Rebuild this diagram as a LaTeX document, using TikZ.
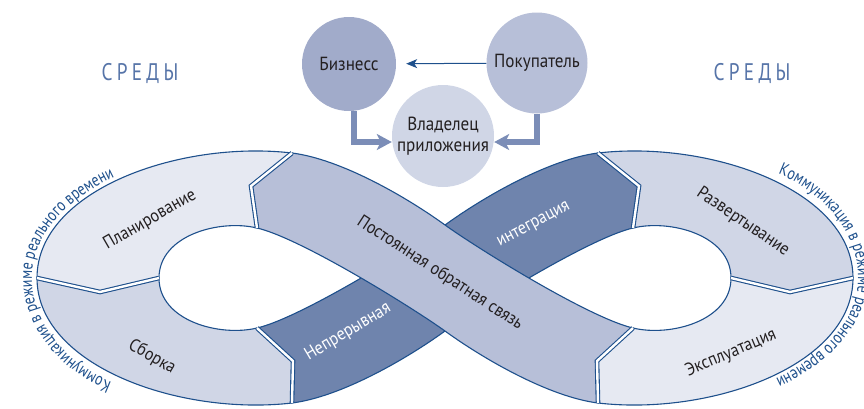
\documentclass[tikz,border=0pt]{standalone}
\usepackage{fontspec}
\setmainfont{PT Sans}[FakeStretch=0.9]
\newfontfamily\envfont{PT Sans}[FakeStretch=0.8,LetterSpace=18]
\newfontfamily\narrowfont{PT Sans}[FakeStretch=0.8]
\usetikzlibrary{arrows.meta,decorations.text}
\definecolor{edge}{RGB}{30,80,140}
\definecolor{ink}{RGB}{35,31,32}
\definecolor{ringA}{RGB}{230,233,242}
\definecolor{ringB}{RGB}{208,214,230}
\definecolor{bandA}{RGB}{183,191,216}
\definecolor{bandB}{RGB}{111,132,173}
\definecolor{bizfill}{RGB}{161,171,202}
\definecolor{fatgray}{RGB}{123,141,183}
\definecolor{envblue}{RGB}{86,116,168}
\newcommand{\lblfont}{\fontsize{18}{20}\selectfont}
\newcommand{\roundfont}{\narrowfont\fontsize{17.5}{19}\selectfont\color{edge}}

\begin{document}
\begin{tikzpicture}[x=1pt,y=-1pt,
    ring/.style={draw=edge,line width=1.1pt,line join=miter},
    sep/.style={draw=edge,line width=1.1pt,double=white,double distance=2.4pt},
    lbl/.style={font=\lblfont,text=ink,inner sep=0pt},
    disc/.style={circle,inner sep=0pt,font=\fontsize{19}{21}\selectfont,text=ink,align=center},
    fat/.style={draw=fatgray,line width=6pt,-{Stealth[length=15pt,width=16pt,inset=4pt]}},
    env/.style={font=\envfont\fontsize{24}{26}\selectfont,text=envblue}]
  \useasboundingbox (0,0) rectangle (864,408);
  \clip (0,0) rectangle (864,408);

  \draw[ring,fill=ringA] (292,153) .. controls (180,140) and (37,190) .. (37,278)
    -- (100,292) -- (159,278) .. controls (159,235) and (220,219) .. (257,228) -- (251,186) -- cycle;
  \draw[ring,fill=ringB] (37,278) .. controls (37,366) and (180,416) .. (292,403)
    -- (293,361) -- (257,328) .. controls (220,337) and (159,321) .. (159,278) -- (100,292) -- cycle;
  \draw[ring,fill=ringB] (598,153) .. controls (710,140) and (853,190) .. (853,278)
    -- (790,292) -- (731,278) .. controls (731,235) and (670,219) .. (633,228) -- (639,186) -- cycle;
  \draw[ring,fill=ringA] (853,278) .. controls (853,366) and (710,416) .. (598,403)
    -- (597,361) -- (633,328) .. controls (670,337) and (731,321) .. (731,278) -- (790,292) -- cycle;

  \draw[ring,fill=bandB] (292,403) .. controls (340,397) and (405,360) .. (445,331)
    .. controls (480,306) and (590,238) .. (633,228) -- (639,186) -- (598,153)
    .. controls (550,159) and (485,196) .. (445,225)
    .. controls (410,250) and (300,318) .. (257,328) -- (293,361) -- cycle;
  \draw[ring,fill=bandA] (292,153) .. controls (340,159) and (405,196) .. (445,225)
    .. controls (480,250) and (590,318) .. (633,328) -- (597,361) -- (598,403)
    .. controls (550,397) and (485,360) .. (445,331)
    .. controls (410,306) and (300,238) .. (257,228) -- (251,186) -- cycle;

  \draw[sep] (37,278) -- (100,292) -- (159,278);
  \draw[sep] (292,153) -- (251,186) -- (257,228);
  \draw[sep] (257,328) -- (293,361) -- (292,403);
  \draw[sep] (598,153) -- (639,186) -- (633,228);
  \draw[sep] (633,328) -- (597,361) -- (598,403);
  \draw[sep] (853,278) -- (790,292) -- (731,278);

  \node[lbl,rotate=30] (plan) at (150,220) {Планирование};
  \node[lbl,rotate=-30] (build) at (152,357) {Сборка};
  \node[lbl,rotate=-34] (deploy) at (743,222) {Развертывание};
  \node[lbl,rotate=23] (operate) at (731,353) {Эксплуатация};
  \node[lbl,rotate=-33] (feedback) at (440,273) {Постоянная обратная связь};
  \node[lbl,rotate=31,text=white] (contin) at (348,332) {Непрерывная};
  \node[lbl,rotate=28,text=white] (integr) at (534,225) {интеграция};

  \path[decorate,decoration={text along path,text align=left,
      text={|\roundfont|Коммуникация в режиме реального времени}}]
    (112,382) .. controls (75,368) and (32,330) .. (32,278)
    .. controls (32,188) and (180,135) .. (292,148);
  \path[decorate,decoration={text along path,text align=left,
      text={|\roundfont|Коммуникация в режиме реального времени}}]
    (778,174) .. controls (815,188) and (858,226) .. (858,278)
    .. controls (858,368) and (710,421) .. (598,408);

  \node[env] (envl) at (140,73) {СРЕДЫ};
  \node[env] (envr) at (752,73) {СРЕДЫ};

  \node[disc,fill=bizfill,minimum size=94pt] (biz) at (349,64) {Бизнесс};
  \node[disc,fill=bandA,minimum size=101pt] (buyer) at (537,63) {Покупатель};
  \node[disc,fill=ringB,minimum size=102pt] (owner) at (443,136) {Владелец\\приложения};

  \draw[draw=edge,line width=1pt,shorten >=10pt,-{Stealth[length=11pt,width=9pt,inset=3pt]}] (buyer) -- (biz);
  \draw[fat] ([xshift=5pt]biz.south) |- ([yshift=-6pt]owner.west);
  \draw[fat] (buyer.south) |- ([yshift=-6pt]owner.east);
\end{tikzpicture}
\end{document}
